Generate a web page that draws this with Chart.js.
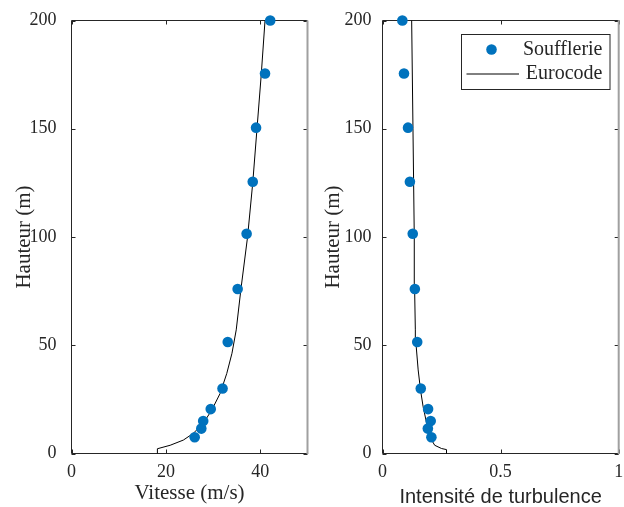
<!DOCTYPE html>
<html>
<head>
<meta charset="utf-8">
<script src="https://cdn.jsdelivr.net/npm/chart.js@4.4.0/dist/chart.umd.min.js"></script>
<style>
  html, body { margin: 0; padding: 0; background: #fff; }
  #wrap { position: relative; width: 624px; height: 507px; overflow: hidden; }
  #left { position: absolute; left: 0; top: 0; }
  #right { position: absolute; left: 320px; top: 0; }
</style>
</head>
<body>
<div id="wrap">
  <canvas id="left" width="320" height="507"></canvas>
  <canvas id="right" width="304" height="507"></canvas>
</div>
<script>
// wind tunnel measurements (Soufflerie)
const heights = [200, 175.5, 150.5, 125.5, 101.5, 76, 51.5, 30, 20.5, 15, 11.5, 7.5];
const windSpeed = [42.1, 41.0, 39.1, 38.4, 37.1, 35.2, 33.1, 32.0, 29.5, 27.9, 27.5, 26.1];
const turbIntensity = [0.084, 0.091, 0.108, 0.116, 0.128, 0.137, 0.147, 0.162, 0.193, 0.204, 0.192, 0.207];

// Eurocode profiles
const codeSpeedHeights = [0, 2.2, 3.8, 6.2, 9.3, 13.9, 20, 27.8, 37, 46.3, 57.1, 76, 100, 125, 150, 175, 200];
const codeSpeed = [18.2, 18.2, 20.9, 23.7, 25.8, 27.9, 29.7, 31.5, 32.9, 34.0, 34.9, 35.9, 37.3, 38.4, 39.3, 40.2, 41.0];
const codeTurbHeights = [0, 1.8, 2.3, 3.8, 7.7, 13.9, 21.6, 29.3, 38.6, 50.9, 57.1, 76, 100, 150, 200];
const codeTurb = [0.271, 0.271, 0.250, 0.221, 0.200, 0.187, 0.172, 0.161, 0.151, 0.1416, 0.139, 0.136, 0.1345, 0.129, 0.1235];

const heightTicks = [0, 50, 100, 150, 200];
const speedTicks = [0, 20, 40];
const turbTicks = [0, 0.5, 1];

const blue = '#0072BD';
const axisColor = '#262626';
const serif = 'Liberation Serif';

Chart.defaults.font.family = serif;
Chart.defaults.color = axisColor;

function pts(xs, ys) {
  return xs.map((x, i) => ({x: x, y: ys[i]}));
}

// MATLAB-like box with inward ticks on all four sides
const framePlugin = {
  id: 'frame',
  beforeDatasetsDraw(chart) {
    const {ctx, chartArea: a, scales} = chart;
    const tl = 4;
    ctx.save();
    ctx.strokeStyle = axisColor;
    ctx.lineWidth = 1;
    ctx.beginPath();
    scales.x.ticks.forEach(t => {
      const px = Math.round(scales.x.getPixelForValue(t.value)) + 0.5;
      ctx.moveTo(px, a.bottom); ctx.lineTo(px, a.bottom - tl);
      ctx.moveTo(px, a.top); ctx.lineTo(px, a.top + tl);
    });
    scales.y.ticks.forEach(t => {
      const py = Math.round(scales.y.getPixelForValue(t.value)) + 0.5;
      ctx.moveTo(a.left, py); ctx.lineTo(a.left + tl, py);
      ctx.moveTo(a.right, py); ctx.lineTo(a.right - tl, py);
    });
    ctx.moveTo(a.left, a.bottom); ctx.lineTo(a.left, a.top); ctx.lineTo(a.right, a.top);
    ctx.moveTo(a.left, a.bottom); ctx.lineTo(a.right, a.bottom);
    ctx.stroke();
    ctx.beginPath();
    ctx.strokeStyle = '#a0a0a0';
    ctx.lineWidth = 2;
    ctx.moveTo(a.right, a.top); ctx.lineTo(a.right, a.bottom + 0.5);
    ctx.stroke();
    ctx.restore();
  }
};

const legendPlugin = {
  id: 'boxLegend',
  afterDraw(chart) {
    const {ctx} = chart;
    const x0 = 141.5, y0 = 34.5, w = 148.5, h = 55;
    ctx.save();
    ctx.fillStyle = '#fff';
    ctx.fillRect(x0, y0, w, h);
    ctx.strokeStyle = axisColor;
    ctx.lineWidth = 1;
    ctx.strokeRect(x0, y0, w, h);
    chart.data.datasets.forEach((ds, i) => {
      const cy = y0 + 15 + i * 24;
      if (ds.showLine) {
        ctx.beginPath();
        ctx.strokeStyle = ds.borderColor;
        ctx.lineWidth = ds.borderWidth;
        ctx.moveTo(x0 + 5, cy + 0.5);
        ctx.lineTo(x0 + 57.5, cy + 0.5);
        ctx.stroke();
      } else {
        ctx.beginPath();
        ctx.fillStyle = ds.backgroundColor;
        ctx.arc(x0 + 30, cy, ds.pointRadius, 0, Math.PI * 2);
        ctx.fill();
      }
      ctx.fillStyle = axisColor;
      ctx.font = '20px "' + serif + '"';
      ctx.textAlign = 'right';
      ctx.textBaseline = 'middle';
      ctx.fillText(ds.label, x0 + 141, cy);
    });
    ctx.restore();
  }
};

function makeChart(id, cfg) {
  return new Chart(document.getElementById(id), {
    type: 'scatter',
    data: {
      datasets: [{
        label: 'Soufflerie',
        data: pts(cfg.measX, heights),
        backgroundColor: blue,
        borderColor: blue,
        borderWidth: 0,
        pointRadius: 5.3,
        pointHoverRadius: 5.3,
        showLine: false,
        clip: false
      }, {
        label: 'Eurocode',
        data: pts(cfg.codeX, cfg.codeY),
        showLine: true,
        borderColor: '#000000',
        borderWidth: 1,
        pointRadius: 0,
        tension: 0,
        clip: false
      }]
    },
    options: {
      responsive: false,
      animation: false,
      layout: { padding: { top: 20.5, right: cfg.padRight, left: 0, bottom: 0 } },
      plugins: { legend: { display: false }, tooltip: { enabled: false } },
      scales: {
        x: {
          type: 'linear',
          min: 0,
          max: cfg.xMax,
          grid: { display: false },
          border: { display: false },
          afterBuildTicks: s => { s.ticks = cfg.xTicks.map(v => ({value: v})); },
          afterFit: s => { s.height = 53.5; s.paddingLeft = 0; s.paddingRight = 0; },
          ticks: {
            padding: 0,
            maxRotation: 0,
            font: { size: 18, family: serif },
            callback: v => String(v)
          },
          title: {
            display: true,
            text: cfg.xTitle,
            font: cfg.xTitleFont,
            padding: { top: 0, bottom: cfg.xTitlePad }
          }
        },
        y: {
          type: 'linear',
          min: 0,
          max: 200,
          grid: { display: false },
          border: { display: false },
          afterBuildTicks: s => { s.ticks = heightTicks.map(v => ({value: v})); },
          afterFit: s => { s.width = cfg.yWidth; s.paddingTop = 0; s.paddingBottom = 0; },
          ticks: {
            padding: cfg.yTickPad,
            font: { size: 18, family: serif },
            callback: v => String(v)
          },
          title: {
            display: true,
            text: 'Hauteur (m)',
            font: { size: 21, family: serif, lineHeight: 1 },
            padding: { top: cfg.yTitlePad, bottom: 0 }
          }
        }
      }
    },
    plugins: cfg.legend ? [framePlugin, legendPlugin] : [framePlugin]
  });
}

makeChart('left', {
  measX: windSpeed,
  codeX: codeSpeed,
  codeY: codeSpeedHeights,
  xMax: 50,
  xTicks: speedTicks,
  xTitle: 'Vitesse (m/s)',
  xTitleFont: { size: 21, family: serif, lineHeight: 1 },
  xTitlePad: 3.5,
  padRight: 12.5,
  yWidth: 71.5,
  yTickPad: 7,
  yTitlePad: 13.5,
  legend: false
});

makeChart('right', {
  measX: turbIntensity,
  codeX: codeTurb,
  codeY: codeTurbHeights,
  xMax: 1,
  xTicks: turbTicks,
  xTitle: 'Intensité de turbulence',
  xTitleFont: { size: 20, family: 'Liberation Sans', lineHeight: 1 },
  xTitlePad: 0,
  padRight: 3.5,
  yWidth: 62.5,
  yTickPad: 3,
  yTitlePad: 2.7,
  legend: true
});
</script>
</body>
</html>
